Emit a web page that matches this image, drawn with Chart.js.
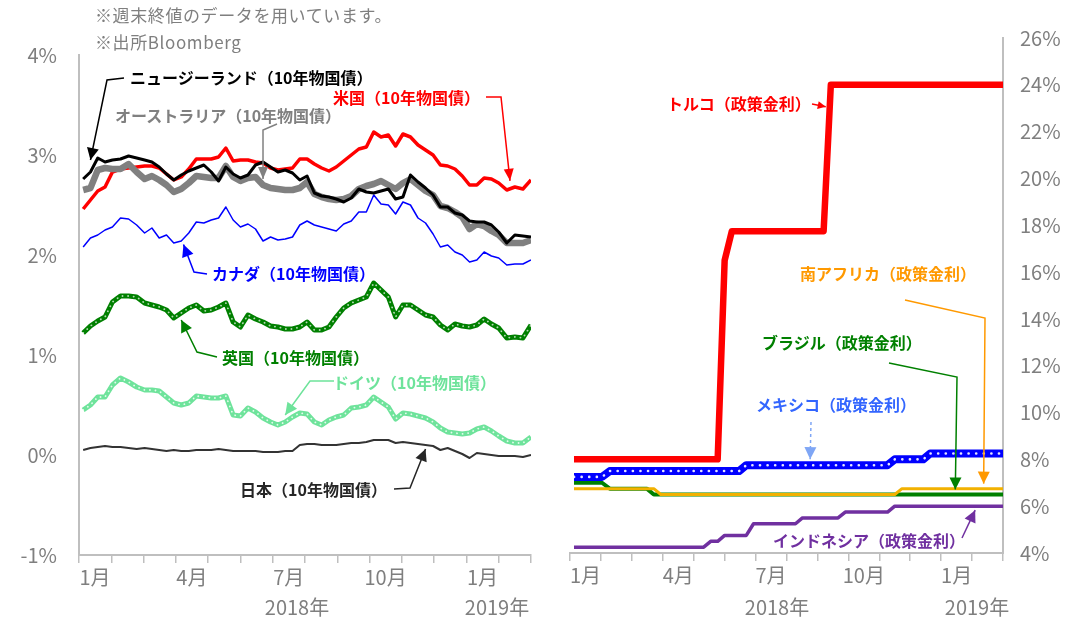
<!DOCTYPE html>
<html lang="ja">
<head>
<meta charset="utf-8">
<script src="https://cdn.jsdelivr.net/npm/chart.js@4.4.1/dist/chart.umd.min.js"></script>
<style>
  html, body { margin: 0; padding: 0; background: #fff; }
  body { width: 1087px; height: 622px; position: relative; overflow: hidden;
         font-family: "Noto Sans CJK JP", "Noto Sans", sans-serif; }
  .panel { position: absolute; top: 0; height: 622px; }
  #leftPanel { left: 0; width: 540px; }
  #rightPanel { left: 540px; width: 547px; }
  .note { position: absolute; left: 95px; font-size: 17px; letter-spacing: 0.6px; color: #7f7f7f;
          line-height: 20px; white-space: nowrap; }
  .callout { position: absolute; font-size: 16px; font-weight: bold; line-height: 20px; white-space: nowrap; }
  .year { position: absolute; top: 595px; font-size: 20px; color: #7f7f7f; line-height: 24px;
          white-space: nowrap; transform: translateX(-50%); }
</style>
</head>
<body>
<div class="panel" id="leftPanel"><canvas id="bondChart"></canvas></div>
<div class="panel" id="rightPanel"><canvas id="rateChart"></canvas></div>
<div class="note" style="top:5px">※週末終値のデータを用いています。</div>
<div class="note" style="top:32px">※出所Bloomberg</div>
<div class="year" style="left:297px">2018年</div>
<div class="year" style="left:497px">2019年</div>
<div class="year" style="left:777px">2018年</div>
<div class="year" style="left:977px">2019年</div>
<script>
// weekly closes (Fridays)
const weekDates = [
  "2018-01-05", "2018-01-12", "2018-01-19", "2018-01-26",
  "2018-02-02", "2018-02-09", "2018-02-16", "2018-02-23",
  "2018-03-02", "2018-03-09", "2018-03-16", "2018-03-23", "2018-03-30",
  "2018-04-06", "2018-04-13", "2018-04-20", "2018-04-27",
  "2018-05-04", "2018-05-11", "2018-05-18", "2018-05-25",
  "2018-06-01", "2018-06-08", "2018-06-15", "2018-06-22", "2018-06-29",
  "2018-07-06", "2018-07-13", "2018-07-20", "2018-07-27",
  "2018-08-03", "2018-08-10", "2018-08-17", "2018-08-24", "2018-08-31",
  "2018-09-07", "2018-09-14", "2018-09-21", "2018-09-28",
  "2018-10-05", "2018-10-12", "2018-10-19", "2018-10-26",
  "2018-11-02", "2018-11-09", "2018-11-16", "2018-11-23", "2018-11-30",
  "2018-12-07", "2018-12-14", "2018-12-21", "2018-12-28",
  "2019-01-04", "2019-01-11", "2019-01-18", "2019-01-25",
  "2019-02-01", "2019-02-08", "2019-02-15", "2019-02-22",
  "2019-03-01",
];

const monthTicks = [0, 1, 2, 3, 4, 5, 6, 7, 8, 9, 10, 11, 12, 13, 14];
const monthLabels = ["1月", "", "", "4月", "", "", "7月", "", "", "10月", "", "", "1月", "", ""];

// 10年物国債利回り (%)
const us = [2.46, 2.55, 2.64, 2.68, 2.83, 2.86, 2.87, 2.88, 2.89, 2.89,
  2.87, 2.81, 2.75, 2.78, 2.86, 2.96, 2.96, 2.96, 2.98, 3.07,
  2.94, 2.95, 2.95, 2.93, 2.92, 2.87, 2.85, 2.86, 2.87, 2.96,
  2.96, 2.91, 2.87, 2.84, 2.88, 2.94, 3.00, 3.06, 3.08, 3.23,
  3.18, 3.20, 3.09, 3.21, 3.18, 3.10, 3.05, 3.00, 2.90, 2.89,
  2.86, 2.79, 2.70, 2.70, 2.77, 2.76, 2.72, 2.65, 2.68, 2.66, 2.75];
const nz = [2.76, 2.83, 2.97, 2.93, 2.95, 2.96, 2.99, 2.97, 2.95, 2.93,
  2.88, 2.81, 2.75, 2.80, 2.84, 2.87, 2.90, 2.83, 2.74, 2.88,
  2.81, 2.77, 2.80, 2.90, 2.93, 2.88, 2.83, 2.85, 2.82, 2.75,
  2.79, 2.62, 2.59, 2.58, 2.56, 2.53, 2.57, 2.66, 2.63, 2.62,
  2.64, 2.66, 2.56, 2.58, 2.80, 2.73, 2.67, 2.60, 2.48, 2.48,
  2.42, 2.40, 2.34, 2.33, 2.33, 2.30, 2.23, 2.12, 2.20, 2.19, 2.18];
const au = [2.65, 2.67, 2.85, 2.87, 2.86, 2.86, 2.91, 2.83, 2.76, 2.79,
  2.75, 2.70, 2.63, 2.66, 2.72, 2.79, 2.78, 2.77, 2.77, 2.89,
  2.78, 2.74, 2.77, 2.78, 2.70, 2.67, 2.66, 2.65, 2.65, 2.67,
  2.73, 2.61, 2.58, 2.56, 2.55, 2.56, 2.59, 2.66, 2.69, 2.71,
  2.74, 2.70, 2.66, 2.72, 2.76, 2.70, 2.64, 2.60, 2.49, 2.47,
  2.43, 2.38, 2.26, 2.31, 2.29, 2.24, 2.20, 2.12, 2.12, 2.12, 2.15];
const ca = [2.08, 2.17, 2.20, 2.25, 2.28, 2.37, 2.36, 2.30, 2.22, 2.27,
  2.17, 2.20, 2.12, 2.14, 2.22, 2.33, 2.32, 2.35, 2.37, 2.48,
  2.35, 2.28, 2.31, 2.26, 2.14, 2.18, 2.15, 2.16, 2.18, 2.30,
  2.34, 2.30, 2.28, 2.26, 2.24, 2.31, 2.34, 2.43, 2.43, 2.60,
  2.51, 2.50, 2.41, 2.53, 2.50, 2.37, 2.32, 2.21, 2.08, 2.10,
  2.03, 2.00, 1.93, 1.95, 2.03, 1.99, 1.97, 1.90, 1.91, 1.91, 1.95];
const uk = [1.22, 1.29, 1.34, 1.38, 1.53, 1.59, 1.59, 1.58, 1.52, 1.50,
  1.48, 1.45, 1.37, 1.42, 1.47, 1.50, 1.44, 1.45, 1.48, 1.52,
  1.33, 1.28, 1.40, 1.36, 1.33, 1.29, 1.28, 1.26, 1.26, 1.28,
  1.33, 1.25, 1.25, 1.28, 1.38, 1.47, 1.52, 1.55, 1.58, 1.72,
  1.65, 1.58, 1.38, 1.50, 1.50, 1.45, 1.40, 1.38, 1.30, 1.25,
  1.31, 1.29, 1.28, 1.30, 1.36, 1.31, 1.27, 1.17, 1.18, 1.17, 1.30];
const de = [0.45, 0.50, 0.58, 0.58, 0.70, 0.77, 0.73, 0.68, 0.65, 0.65,
  0.64, 0.58, 0.52, 0.50, 0.52, 0.59, 0.58, 0.57, 0.57, 0.59,
  0.40, 0.39, 0.47, 0.43, 0.37, 0.33, 0.30, 0.33, 0.38, 0.42,
  0.41, 0.33, 0.30, 0.35, 0.38, 0.40, 0.47, 0.48, 0.50, 0.58,
  0.53, 0.48, 0.36, 0.42, 0.41, 0.39, 0.37, 0.33, 0.27, 0.23,
  0.22, 0.21, 0.22, 0.26, 0.28, 0.24, 0.19, 0.14, 0.12, 0.12, 0.18];
const jp = [0.05, 0.07, 0.08, 0.09, 0.08, 0.08, 0.07, 0.06, 0.07, 0.06,
  0.05, 0.04, 0.05, 0.04, 0.04, 0.05, 0.05, 0.05, 0.06, 0.05,
  0.04, 0.04, 0.04, 0.04, 0.03, 0.03, 0.03, 0.04, 0.04, 0.10,
  0.11, 0.11, 0.10, 0.10, 0.10, 0.11, 0.12, 0.12, 0.13, 0.15,
  0.15, 0.15, 0.12, 0.13, 0.12, 0.11, 0.10, 0.09, 0.05, 0.07,
  0.04, 0.01, -0.03, 0.02, 0.01, 0.00, -0.01, -0.01, -0.01, -0.02, 0.00];

// 政策金利 (%)
const tr = [8, 8, 8, 8, 8, 8, 8, 8, 8, 8,
  8, 8, 8, 8, 8, 8, 8, 8, 8, 8,
  8, 16.5, 17.75, 17.75, 17.75, 17.75, 17.75, 17.75, 17.75, 17.75,
  17.75, 17.75, 17.75, 17.75, 17.75, 17.75, 24, 24, 24, 24,
  24, 24, 24, 24, 24, 24, 24, 24, 24, 24,
  24, 24, 24, 24, 24, 24, 24, 24, 24, 24, 24];
const mx = [7.25, 7.25, 7.25, 7.25, 7.25, 7.5, 7.5, 7.5, 7.5, 7.5,
  7.5, 7.5, 7.5, 7.5, 7.5, 7.5, 7.5, 7.5, 7.5, 7.5,
  7.5, 7.5, 7.5, 7.5, 7.75, 7.75, 7.75, 7.75, 7.75, 7.75,
  7.75, 7.75, 7.75, 7.75, 7.75, 7.75, 7.75, 7.75, 7.75, 7.75,
  7.75, 7.75, 7.75, 7.75, 7.75, 8, 8, 8, 8, 8,
  8.25, 8.25, 8.25, 8.25, 8.25, 8.25, 8.25, 8.25, 8.25, 8.25, 8.25];
const br = [7, 7, 7, 7, 7, 6.75, 6.75, 6.75, 6.75, 6.75,
  6.75, 6.5, 6.5, 6.5, 6.5, 6.5, 6.5, 6.5, 6.5, 6.5,
  6.5, 6.5, 6.5, 6.5, 6.5, 6.5, 6.5, 6.5, 6.5, 6.5,
  6.5, 6.5, 6.5, 6.5, 6.5, 6.5, 6.5, 6.5, 6.5, 6.5,
  6.5, 6.5, 6.5, 6.5, 6.5, 6.5, 6.5, 6.5, 6.5, 6.5,
  6.5, 6.5, 6.5, 6.5, 6.5, 6.5, 6.5, 6.5, 6.5, 6.5, 6.5];
const za = [6.75, 6.75, 6.75, 6.75, 6.75, 6.75, 6.75, 6.75, 6.75, 6.75,
  6.75, 6.75, 6.5, 6.5, 6.5, 6.5, 6.5, 6.5, 6.5, 6.5,
  6.5, 6.5, 6.5, 6.5, 6.5, 6.5, 6.5, 6.5, 6.5, 6.5,
  6.5, 6.5, 6.5, 6.5, 6.5, 6.5, 6.5, 6.5, 6.5, 6.5,
  6.5, 6.5, 6.5, 6.5, 6.5, 6.5, 6.75, 6.75, 6.75, 6.75,
  6.75, 6.75, 6.75, 6.75, 6.75, 6.75, 6.75, 6.75, 6.75, 6.75, 6.75];
const id = [4.25, 4.25, 4.25, 4.25, 4.25, 4.25, 4.25, 4.25, 4.25, 4.25,
  4.25, 4.25, 4.25, 4.25, 4.25, 4.25, 4.25, 4.25, 4.25, 4.5,
  4.5, 4.75, 4.75, 4.75, 4.75, 5.25, 5.25, 5.25, 5.25, 5.25,
  5.25, 5.25, 5.5, 5.5, 5.5, 5.5, 5.5, 5.5, 5.75, 5.75,
  5.75, 5.75, 5.75, 5.75, 5.75, 6, 6, 6, 6, 6,
  6, 6, 6, 6, 6, 6, 6, 6, 6, 6, 6];

const grey = "#7f7f7f";
const axisGrey = "#bfbfbf";
Chart.defaults.font.family = '"Noto Sans CJK JP", "Noto Sans", sans-serif';

function monthPos(s) {
  const [y, m, d] = s.split("-").map(Number);
  const days = new Date(y, m, 0).getDate();
  return (y - 2018) * 12 + (m - 1) + (d - 1) / days;
}
const xPos = weekDates.map(monthPos);

function toPoints(vals) {
  return vals.map((v, i) => ({ x: xPos[i], y: v }));
}

function line(label, vals, color, width, order, extra) {
  return Object.assign({
    label: label,
    data: toPoints(vals),
    borderColor: color,
    borderWidth: width,
    borderJoinStyle: "round",
    pointRadius: 0,
    tension: 0,
    fill: false,
    order: order,
  }, extra || {});
}

// small white dots on top of the thick lines
function dots(label, vals, order, size, gap, color) {
  return line(label + " dots", vals, color, size, order,
    { borderDash: [0.1, gap], borderCapStyle: "round" });
}

function monthAxis(labelOffset, height) {
  return {
    type: "linear",
    min: 0,
    max: 14,
    afterBuildTicks: (s) => { s.ticks = monthTicks.map((v) => ({ value: v })); },
    afterFit: (s) => { s.height = height; },
    grid: { drawOnChartArea: false, drawTicks: true, tickLength: 8, color: axisGrey, lineWidth: 1.5 },
    border: { display: true, color: axisGrey, width: 2 },
    ticks: {
      autoSkip: false,
      maxRotation: 0,
      labelOffset: labelOffset,
      padding: 2,
      color: grey,
      font: { size: 20 },
      callback: (v) => monthLabels[Math.round(v)] || "",
    },
  };
}

function tipPixel(chart, t) {
  const i0 = Math.floor(t.i);
  const i1 = Math.min(i0 + 1, xPos.length - 1);
  const f = t.i - i0;
  const mxv = xPos[i0] + (xPos[i1] - xPos[i0]) * f;
  const v = t.s[i0] + (t.s[i1] - t.s[i0]) * f;
  return [chart.scales.x.getPixelForValue(mxv) + (t.dx || 0),
          chart.scales.y.getPixelForValue(v) + (t.dy || 0)];
}

// leader lines with arrow heads, tip anchored on the series
function calloutPlugin(items, offsetX) {
  return {
    id: "callouts",
    afterDatasetsDraw(chart) {
      const ctx = chart.ctx;
      items.forEach((c) => {
        const tip = tipPixel(chart, c.tip);
        const pts = c.path.map(([x, y]) => [x - offsetX, y]).concat([tip]);
        const col = c.lineColor || c.color;
        ctx.save();
        ctx.strokeStyle = col;
        ctx.fillStyle = col;
        ctx.lineWidth = 1.5;
        if (c.dash) ctx.setLineDash(c.dash);
        ctx.beginPath();
        pts.forEach(([x, y], k) => (k ? ctx.lineTo(x, y) : ctx.moveTo(x, y)));
        ctx.stroke();
        ctx.setLineDash([]);
        const [px, py] = pts[pts.length - 2];
        const [tx, ty] = tip;
        const a = Math.atan2(ty - py, tx - px);
        const L = c.head || 12;
        const W = c.headW || 5;
        ctx.beginPath();
        ctx.moveTo(tx, ty);
        ctx.lineTo(tx - L * Math.cos(a) + W * Math.sin(a), ty - L * Math.sin(a) - W * Math.cos(a));
        ctx.lineTo(tx - L * Math.cos(a) - W * Math.sin(a), ty - L * Math.sin(a) + W * Math.cos(a));
        ctx.closePath();
        ctx.fill();
        ctx.restore();
      });
    },
  };
}

function addLabels(items) {
  items.forEach((c) => {
    const div = document.createElement("div");
    div.className = "callout";
    div.textContent = c.text;
    div.style.color = c.color;
    div.style.left = c.lx + "px";
    div.style.top = (c.ly - 10) + "px";
    document.body.appendChild(div);
  });
}

const bondNotes = [
  { text: "ニュージーランド（10年物国債）", color: "#000000", lx: 130, ly: 77,
    path: [[124, 78], [107, 80]], tip: { s: nz, i: 1, dy: -12 }, headW: 6 },
  { text: "オーストラリア（10年物国債）", color: "#808080", lx: 115, ly: 115,
    path: [[277, 124], [263, 130]], tip: { s: au, i: 24, dy: -6 } },
  { text: "米国（10年物国債）", color: "#ff0000", lx: 333, ly: 97,
    path: [[486, 97], [501, 97]], tip: { s: us, i: 57.4, dy: -8 } },
  { text: "カナダ（10年物国債）", color: "#0000ff", lx: 212, ly: 273,
    path: [[207, 274], [194, 272]], tip: { s: ca, i: 13.3, dy: 6 }, headW: 6 },
  { text: "英国（10年物国債）", color: "#008000", lx: 222, ly: 357,
    path: [[217, 357], [197, 352]], tip: { s: uk, i: 13, dy: 7 }, headW: 6 },
  { text: "ドイツ（10年物国債）", color: "#6ee39b", lx: 333, ly: 382,
    path: [[334, 381], [310, 381]], tip: { s: de, i: 27, dy: -7 }, headW: 6 },
  { text: "日本（10年物国債）", color: "#262626", lx: 240, ly: 489,
    path: [[394, 489], [410, 488]], tip: { s: jp, i: 46, dy: 4 }, headW: 6 },
];

const rateNotes = [
  { text: "トルコ（政策金利）", color: "#ff0000", lx: 667, ly: 103,
    path: [[812, 104]], tip: { s: tr, i: 35.85, dx: -4 }, head: 8, headW: 4 },
  { text: "南アフリカ（政策金利）", color: "#ff9900", lx: 800, ly: 273,
    path: [[905, 300], [985, 318]], tip: { s: za, i: 57.5, dy: -5 }, headW: 6 },
  { text: "ブラジル（政策金利）", color: "#008000", lx: 762, ly: 342,
    path: [[889, 363], [957, 377]], tip: { s: br, i: 53.6, dy: -5 }, headW: 6 },
  { text: "メキシコ（政策金利）", color: "#3366ff", lx: 756, ly: 404, lineColor: "#7fa6f5",
    path: [[811, 422]], tip: { s: mx, i: 33.1, dy: -6 }, dash: [3, 3], headW: 6 },
  { text: "インドネシア（政策金利）", color: "#7030a0", lx: 773, ly: 540,
    path: [[962, 538]], tip: { s: id, i: 56.4, dy: 4 }, headW: 6 },
];

const common = {
  responsive: true,
  maintainAspectRatio: false,
  animation: false,
  events: [],
  plugins: { legend: { display: false }, tooltip: { enabled: false } },
};

new Chart(document.getElementById("bondChart"), {
  type: "line",
  data: {
    datasets: [
      line("ニュージーランド", nz, "#000000", 3, 1),
      line("オーストラリア", au, "#808080", 6.5, 2),
      line("米国", us, "#ff0000", 3.5, 3),
      line("カナダ", ca, "#0000ff", 1.5, 4),
      dots("英国", uk, 5, 1.8, 5.5, "rgba(255,255,255,0.7)"),
      line("英国", uk, "#008000", 5, 6),
      dots("ドイツ", de, 7, 1.8, 5.5, "rgba(255,255,255,0.8)"),
      line("ドイツ", de, "#6ee39b", 5, 8),
      line("日本", jp, "#333333", 2, 9),
    ],
  },
  options: Object.assign({}, common, {
    layout: { padding: { left: 0, right: 9, top: 55, bottom: 0 } },
    scales: {
      x: monthAxis(16, 67),
      y: {
        min: -1,
        max: 4,
        afterFit: (s) => { s.width = 79; },
        grid: { display: false, drawTicks: false },
        border: { display: true, color: axisGrey, width: 2 },
        ticks: { stepSize: 1, padding: 22, color: grey, font: { size: 20 }, callback: (v) => v + "%" },
      },
    },
  }),
  plugins: [calloutPlugin(bondNotes, 0)],
});

new Chart(document.getElementById("rateChart"), {
  type: "line",
  data: {
    datasets: [
      line("トルコ", tr, "#ff0000", 6.5, 1),
      dots("メキシコ", mx, 2, 2.6, 7.5, "rgba(255,255,255,0.9)"),
      line("メキシコ", mx, "#0000ff", 8, 3),
      line("南アフリカ", za, "#f2b100", 3, 4),
      line("ブラジル", br, "#008000", 4, 5),
      line("インドネシア", id, "#7030a0", 3.5, 6),
    ],
  },
  options: Object.assign({}, common, {
    layout: { padding: { left: 30, right: 0, top: 38, bottom: 0 } },
    scales: {
      x: monthAxis(15.5, 69),
      y: {
        position: "right",
        min: 4,
        max: 26,
        afterFit: (s) => { s.width = 84; },
        grid: { display: false, drawTicks: false },
        border: { display: true, color: axisGrey, width: 2 },
        ticks: { stepSize: 2, padding: 17, color: grey, font: { size: 20 }, callback: (v) => v + "%" },
      },
    },
  }),
  plugins: [calloutPlugin(rateNotes, 540)],
});

addLabels(bondNotes);
addLabels(rateNotes);
</script>
</body>
</html>
